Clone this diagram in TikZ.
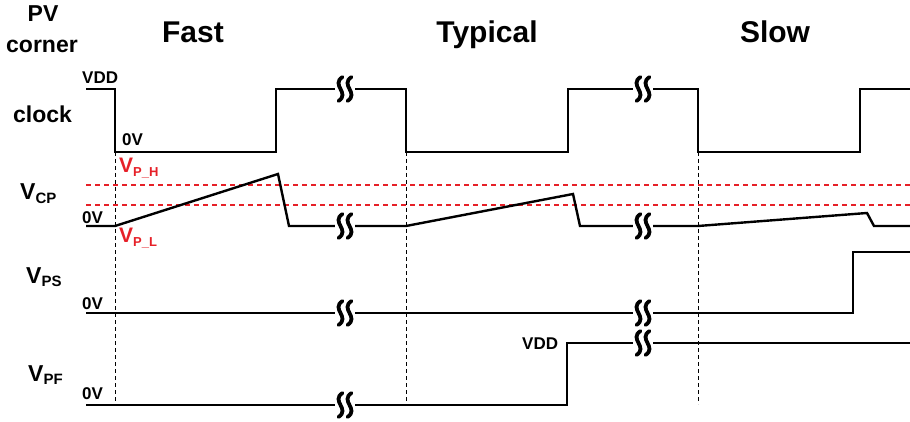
\documentclass[tikz,border=0pt]{standalone}
\usepackage{fontspec}
\setmainfont{Liberation Sans}
\usetikzlibrary{positioning}
\definecolor{pvred}{RGB}{230,32,40}

% V with a lowered subscript, both bold sans
\newcommand{\vsub}[2]{V\raisebox{-3.5pt}{\fontsize{#2}{#2}\selectfont #1}}

% time-axis break: hide the trace, then two wavy strokes
\newcommand{\wbreak}[2]{%
  \fill[white] (#1-10,#2-4) rectangle (#1+10,#2+4);
  \foreach \dx in {-4.5,4.5}
    \draw[brk] (#1+\dx+2,#2-12) .. controls (#1+\dx-10,#2-4) and (#1+\dx+10,#2+4) .. (#1+\dx-2,#2+12);
}

\begin{document}
\begin{tikzpicture}[
  x=1pt, y=-1pt,
  wave/.style={line width=2.4pt, line join=miter},
  guide/.style={line width=0.8pt, dash pattern=on 4pt off 3pt},
  thresh/.style={pvred, line width=2pt, dash pattern=on 5pt off 4pt},
  brk/.style={line width=3.8pt, line cap=round},
  title/.style={font=\bfseries\fontsize{30}{31}\selectfont, inner sep=0pt},
  sig/.style={font=\bfseries\fontsize{23}{24}\selectfont, inner sep=0pt, anchor=base west},
  lvl/.style={font=\bfseries\fontsize{17}{17}\selectfont, inner sep=0pt, anchor=base west},
  thr/.style={font=\bfseries\fontsize{21}{21}\selectfont, inner sep=0pt, anchor=base west, text=pvred},
]
\useasboundingbox (0,0) rectangle (910,422);

%% ---- headings -------------------------------------------------------------
\node[sig, anchor=base] (pv) at (43,22) {PV};
\node[sig, anchor=base] (corner) at (42,53) {corner};
\node[title, anchor=base] (fast) at (193,43) {Fast};
\node[title, anchor=base] (typ) at (487,43) {Typical};
\node[title, anchor=base] (slow) at (775,43) {Slow};

%% ---- guides and thresholds ------------------------------------------------
\draw[guide] (115,152) -- (115,405);
\draw[guide] (406,152) -- (406,404);
\draw[guide] (698,152) -- (698,404);
\draw[thresh] (86,185) -- (910,185);
\draw[thresh] (86,205) -- (910,205);

%% ---- clock ----------------------------------------------------------------
\node[sig] (clk) at (13,123) {clock};
\node[lvl] (clkhi) at (82,84) {VDD};
\node[lvl] (clklo) at (122,146) {0V};
\draw[wave] (86,89) -- (115,89) -- (115,152) -- (276,152) -- (276,89)
  -- (406,89) -- (406,152) -- (568,152) -- (568,89) -- (698,89)
  -- (698,152) -- (860,152) -- (860,89) -- (910,89);
\wbreak{345}{89}
\wbreak{643}{89}

%% ---- V_CP -----------------------------------------------------------------
\node[sig] (vcp) at (20,200) {\vsub{CP}{15}};
\node[lvl] (vcplo) at (82,223) {0V};
\node[thr] (vph) at (119,173) {\vsub{P\_H}{13}};
\node[thr] (vpl) at (119,243) {\vsub{P\_L}{13}};
\draw[wave] (86,226) -- (115,226) -- (278,174) -- (289,226) -- (406,226)
  -- (573,194) -- (580,226) -- (698,226) -- (867,213) -- (874,226) -- (910,226);
\wbreak{345}{226}
\wbreak{643}{226}

%% ---- V_PS -----------------------------------------------------------------
\node[sig] (vps) at (26,283) {\vsub{PS}{15}};
\node[lvl] (vpslo) at (82,309) {0V};
\draw[wave] (86,313) -- (853,313) -- (853,252) -- (910,252);
\wbreak{345}{313}
\wbreak{643}{313}

%% ---- V_PF -----------------------------------------------------------------
\node[sig] (vpf) at (28,381) {\vsub{PF}{15}};
\node[lvl] (vpflo) at (82,399) {0V};
\node[lvl] (vpfhi) at (522,349) {VDD};
\draw[wave] (86,405) -- (567,405) -- (567,343) -- (910,343);
\wbreak{345}{405}
\wbreak{643}{343}

\end{tikzpicture}
\end{document}
